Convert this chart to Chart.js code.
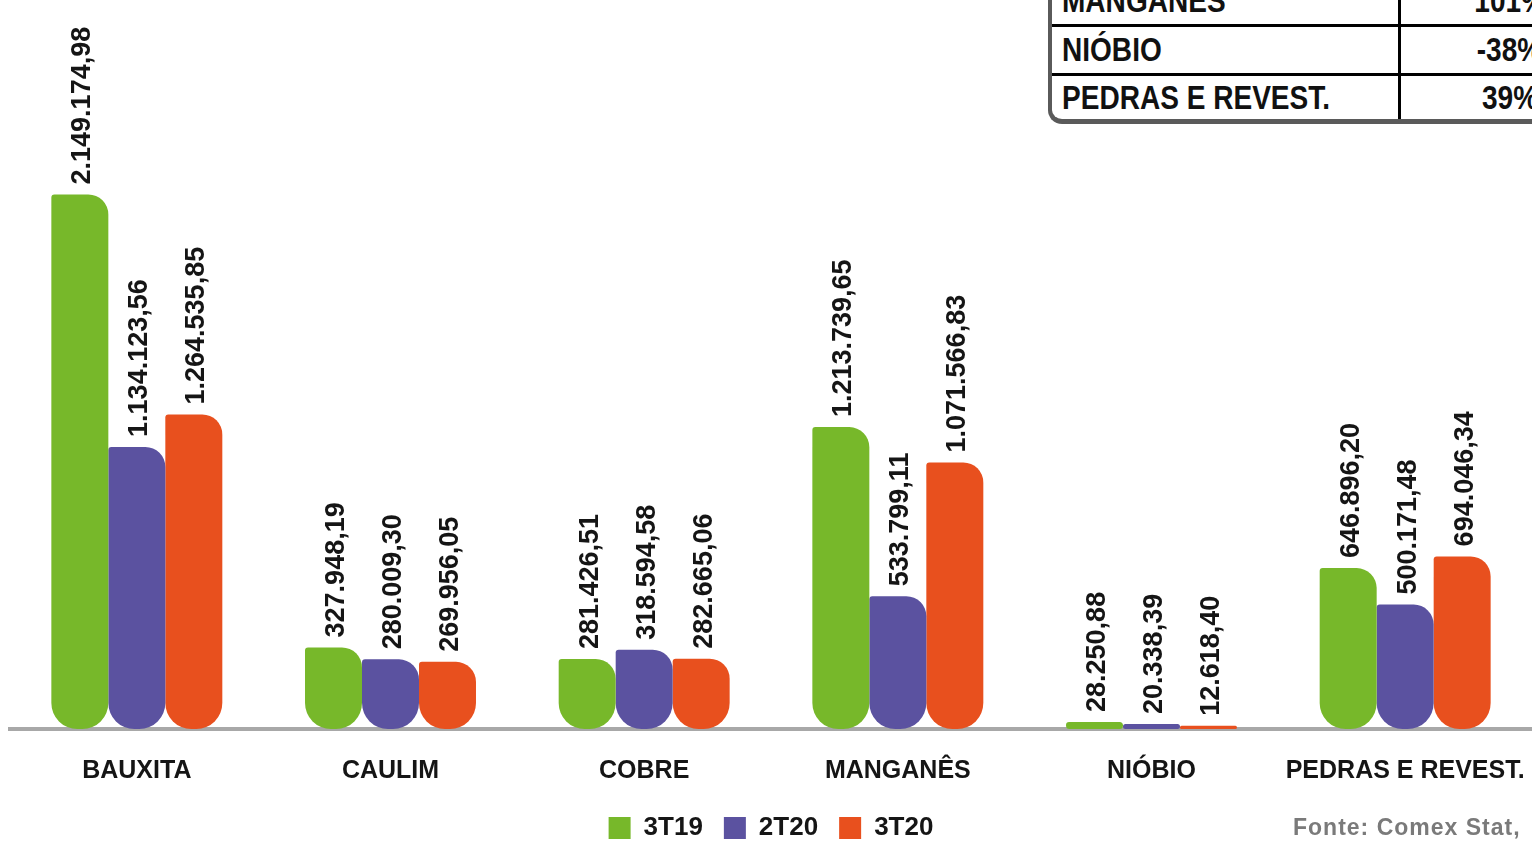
<!DOCTYPE html>
<html>
<head>
<meta charset="utf-8">
<script src="https://cdn.jsdelivr.net/npm/chart.js@4.4.0/dist/chart.umd.min.js"></script>
<style>
  html, body { margin: 0; padding: 0; background: #fff; overflow: hidden; }
  #wrap { position: relative; width: 1532px; height: 841px; overflow: hidden; }
  #c { position: absolute; left: 0; top: 0; }
  #tbl {
    position: absolute; left: 1048px; top: -22px; width: 600px;
    background: #fff; border-left: 4px solid #5a5a5a; border-bottom: 5px solid #5a5a5a;
    border-bottom-left-radius: 14px; overflow: hidden;
    font-family: "Liberation Sans", Arial, sans-serif; font-weight: bold;
    font-size: 33px; color: #111; z-index: 2;
  }
  .row { display: flex; height: 46px; border-bottom: 3px solid #000; }
  .row:last-child { border-bottom: none; height: 43px; }
  .c1 { width: 349px; border-right: 3px solid #000; padding-left: 10px; box-sizing: border-box; display: flex; align-items: center; }
  .c2 { flex: 1; display: flex; align-items: center; justify-content: center; padding-right: 33px; }
  .sq { display: inline-block; transform: scaleX(0.85); transform-origin: left center; white-space: nowrap; }
  .c2 .sq { transform-origin: center center; }
  #fonte {
    position: absolute; left: 1293px; top: 814px; white-space: nowrap;
    font-family: "Liberation Sans", Arial, sans-serif; font-weight: bold; font-size: 23px;
    letter-spacing: 1px; color: #7a7a7a;
  }
</style>
</head>
<body>
<div id="wrap">
  <canvas id="c" width="1532" height="841"></canvas>
  <div id="tbl">
    <div class="row"><div class="c1"><span class="sq">MANGANÊS</span></div><div class="c2"><span class="sq">101%</span></div></div>
    <div class="row"><div class="c1"><span class="sq">NIÓBIO</span></div><div class="c2"><span class="sq">-38%</span></div></div>
    <div class="row"><div class="c1"><span class="sq">PEDRAS E REVEST.</span></div><div class="c2"><span class="sq">39%</span></div></div>
  </div>
  <div id="fonte">Fonte: Comex Stat,</div>
</div>
<script>
const categories = ["BAUXITA", "CAULIM", "COBRE", "MANGANÊS", "NIÓBIO", "PEDRAS E REVEST."];
const seriesNames = ["3T19", "2T20", "3T20"];
const values3T19 = [2149174.98, 327948.19, 281426.51, 1213739.65, 28250.88, 646896.20];
const values2T20 = [1134123.56, 280009.30, 318594.58, 533799.11, 20338.39, 500171.48];
const values3T20 = [1264535.85, 269956.05, 282665.06, 1071566.83, 12618.40, 694046.34];
const colors = ["#77b82a", "#5b52a0", "#e8501e"];

function fmtBR(v) {
  const fixed = v.toFixed(2);
  const [ip, dp] = fixed.split(".");
  const withDots = ip.replace(/\B(?=(\d{3})+(?!\d))/g, ".");
  return withDots + "," + dp;
}

const FONT = '"Liberation Sans", Arial, sans-serif';

const valueLabels = {
  id: "valueLabels",
  afterDatasetsDraw(chart) {
    const ctx = chart.ctx;
    ctx.save();
    ctx.font = "bold 27px " + FONT;
    ctx.fillStyle = "#151515";
    ctx.textAlign = "left";
    ctx.textBaseline = "middle";
    chart.data.datasets.forEach((ds, di) => {
      const meta = chart.getDatasetMeta(di);
      meta.data.forEach((bar, i) => {
        ctx.save();
        ctx.translate(bar.x + 3, bar.y - 10);
        ctx.rotate(-Math.PI / 2);
        ctx.fillText(fmtBR(ds.data[i]), 0, 0);
        ctx.restore();
      });
    });
    ctx.restore();
  }
};

const radius = { topLeft: 3, topRight: 20, bottomLeft: 26, bottomRight: 26 };

new Chart(document.getElementById("c"), {
  type: "bar",
  data: {
    labels: categories,
    datasets: [
      { label: seriesNames[0], data: values3T19, backgroundColor: colors[0] },
      { label: seriesNames[1], data: values2T20, backgroundColor: colors[1] },
      { label: seriesNames[2], data: values3T20, backgroundColor: colors[2] }
    ].map(d => Object.assign(d, { borderWidth: 0, borderSkipped: false, borderRadius: radius,
                                 categoryPercentage: 0.674, barPercentage: 1.0 }))
  },
  options: {
    responsive: false,
    animation: false,
    devicePixelRatio: 1,
    layout: { autoPadding: false, padding: { left: 10, right: 0, top: 0, bottom: -10 } },
    scales: {
      x: {
        grid: { display: false, drawTicks: false },
        border: { display: true, color: "#a8a8a8", width: 4 },
        ticks: { color: "#151515", font: { family: FONT, size: 25, weight: "bold" }, padding: 27, maxRotation: 0, autoSkip: false },
        afterFit(s) { s.height = 65; s.paddingLeft = 0; s.paddingRight = 0; }
      },
      y: { display: false, min: 0, max: 2931000 }
    },
    plugins: {
      legend: {
        position: "bottom",
        labels: { boxWidth: 22, boxHeight: 22, padding: 21, color: "#151515",
                  font: { family: FONT, size: 26, weight: "bold" } }
      },
      tooltip: { enabled: false }
    }
  },
  plugins: [valueLabels]
});
</script>
</body>
</html>
